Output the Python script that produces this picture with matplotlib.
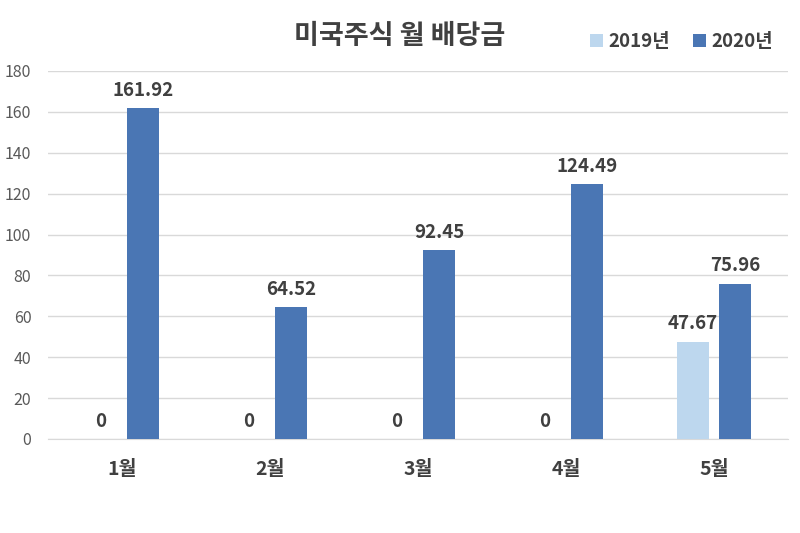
import matplotlib
matplotlib.use("Agg")
import matplotlib.pyplot as plt
import numpy as np

plt.rcParams['font.family'] = ['Noto Sans CJK KR', 'DejaVu Sans']

categories = ['1월', '2월', '3월', '4월', '5월']
series_names = ['2019년', '2020년']
values_2019 = [0, 0, 0, 0, 47.67]
values_2020 = [161.92, 64.52, 92.45, 124.49, 75.96]
title = '미국주식 월 배당금'

c2019 = '#BDD7EE'
c2020 = '#4A76B4'
txt = '#404040'

fig = plt.figure(figsize=(8, 5.33), dpi=100)
ax = fig.add_axes([0.06, 0.1764, 0.925, 0.6904])
x = np.arange(len(categories))
w = 0.216
off = 0.142
b1 = ax.bar(x - off, values_2019, w, color=c2019, label=series_names[0], zorder=3)
b2 = ax.bar(x + off, values_2020, w, color=c2020, label=series_names[1], zorder=3)

for bars, vals in ((b1, values_2019), (b2, values_2020)):
    for r, v in zip(bars, vals):
        lab = f'{v:g}' if v != 0 else '0'
        ax.annotate(lab, (r.get_x() + r.get_width() / 2, v), xytext=(0, 6),
                    textcoords='offset points', ha='center', va='bottom',
                    fontsize=13.5, fontweight='bold', color=txt)

ax.set_xlim(-0.5, 4.5)
ax.set_ylim(0, 180)
ax.set_yticks(range(0, 181, 20))
ax.yaxis.grid(True, color='#D9D9D9', linewidth=1, zorder=0)
ax.set_xticks(x)
ax.set_xticklabels(categories, fontsize=14, fontweight='bold', color=txt)
ax.tick_params(axis='x', length=0, pad=15)
ax.tick_params(axis='y', length=0, pad=12, labelsize=11.5, labelcolor='#595959')
for s in ['top', 'right', 'left']:
    ax.spines[s].set_visible(False)
ax.spines['bottom'].set_color('#D9D9D9')

fig.text(0.5, 0.932, title, ha='center', va='center', fontsize=19.5,
         fontweight='bold', color=txt)
fig.legend(handles=[b1, b2], labels=series_names, loc='center', bbox_to_anchor=(0.852, 0.922),
           ncol=2, frameon=False, prop={'weight': 'bold', 'size': 13.5},
           handlelength=0.7, handleheight=0.7, handletextpad=0.3, columnspacing=1.2,
           labelcolor=txt)

fig.savefig('out.png', dpi=100)
